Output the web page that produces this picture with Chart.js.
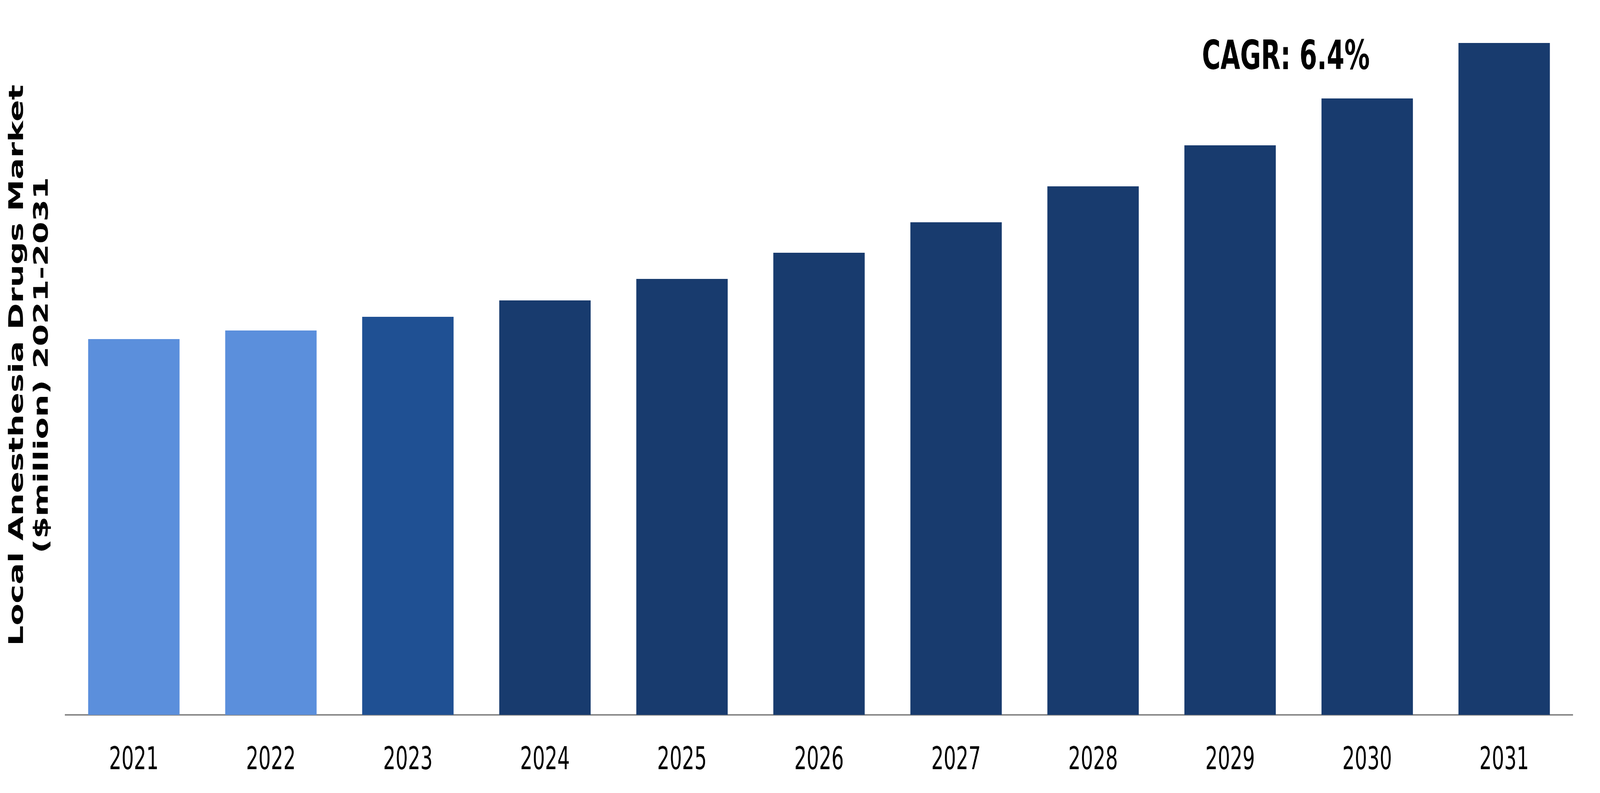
<!DOCTYPE html>
<html>
<head>
<meta charset="utf-8">
<script src="https://cdn.jsdelivr.net/npm/chart.js@4"></script>
<style>
    html, body { margin: 0; padding: 0; background: #ffffff; overflow: hidden; }
    #wrap { width: 6564px; height: 2030px; position: relative; transform-origin: 0 0; }
</style>
</head>
<body>
<div id="wrap"><canvas id="marketChart"></canvas></div>
<script>
const years = ["2021", "2022", "2023", "2024", "2025", "2026", "2027", "2028", "2029", "2030", "2031"];
const marketValues = [962, 984, 1019, 1061, 1116, 1183, 1261, 1353, 1458, 1578, 1720];
const barColors = ["#5B8FDC", "#5B8FDC", "#1F5093", "#183B6E", "#183B6E", "#183B6E",
    "#183B6E", "#183B6E", "#183B6E", "#183B6E", "#183B6E"];
const axisTitle = ["Local Anesthesia Drugs Market", "($million) 2021-2031"];
const cagrLabel = "CAGR: 6.4%";

// the window may be narrower than the 6564px design, so squeeze it to fit
const wrapEl = document.getElementById("wrap");
const fitX = Math.min(1, window.innerWidth / 6564);
const fitY = Math.min(1, window.innerHeight / 2030);
wrapEl.style.transform = `scale(${fitX}, ${fitY})`;

const cagrPlugin = {
    id: "cagrText",
    afterDraw(chart) {
        const ctx = chart.ctx;
        ctx.save();
        ctx.font = "bold 104px 'DejaVu Sans', Verdana, sans-serif";
        ctx.fillStyle = "#000000";
        ctx.textAlign = "left";
        ctx.textBaseline = "alphabetic";
        ctx.fillText(cagrLabel, 4931, 177);
        ctx.restore();
    }
};

const chartContext = document.getElementById("marketChart").getContext("2d");

const marketChart = new Chart(chartContext, {
    type: "bar",
    data: {
        labels: years,
        datasets: [{
            data: marketValues,
            backgroundColor: barColors,
            borderWidth: 0,
            barPercentage: 0.667,
            categoryPercentage: 1
        }]
    },
    options: {
        responsive: true,
        maintainAspectRatio: false,
        animation: false,
        layout: { padding: { top: 40, right: 112, left: 0, bottom: 0 } },
        plugins: {
            legend: { display: false },
            tooltip: { enabled: false }
        },
        scales: {
            x: {
                grid: { display: false, drawTicks: false },
                border: { display: true, color: "#898989", width: 4 },
                ticks: {
                    color: "#000000",
                    padding: 70,
                    font: { family: "'DejaVu Sans', Verdana, sans-serif", size: 80 }
                },
                afterFit(scale) { scale.height = 200; }
            },
            y: {
                min: 0,
                max: 1790,
                grid: { display: false, drawTicks: false },
                border: { display: false },
                ticks: { display: false },
                title: {
                    display: true,
                    text: axisTitle,
                    color: "#000000",
                    padding: { top: 21, bottom: 0 },
                    font: { family: "'DejaVu Sans', Verdana, sans-serif", size: 82, weight: "bold", lineHeight: 1.25 }
                },
                afterFit(scale) { scale.width = 268; }
            }
        }
    },
    plugins: [cagrPlugin]
});
</script>
</body>
</html>
